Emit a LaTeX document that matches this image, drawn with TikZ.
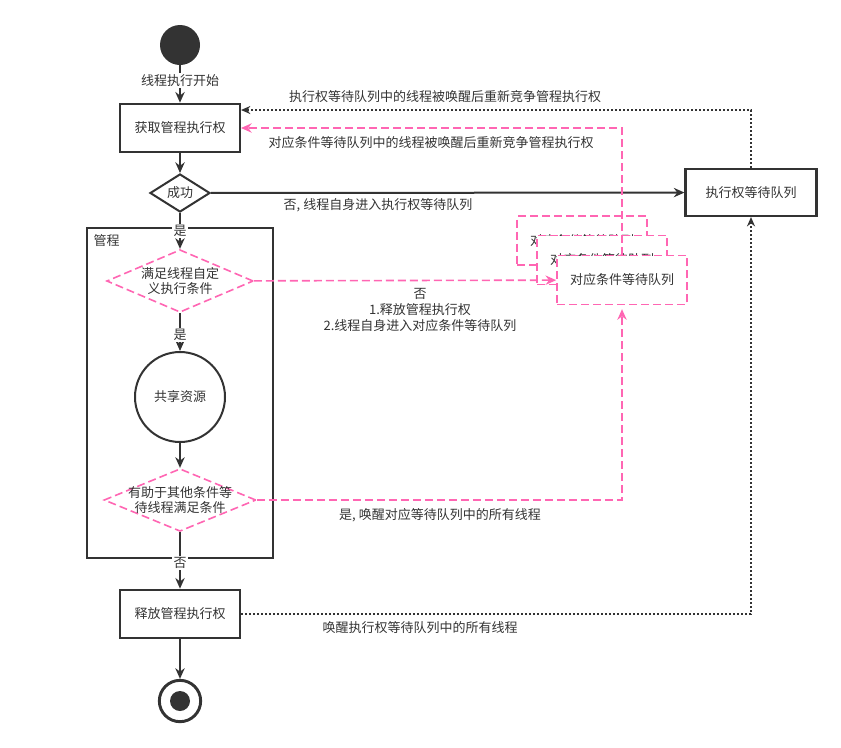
\documentclass[tikz,border=0pt]{standalone}
\usepackage{fontspec}
\setmainfont{Noto Sans CJK SC}
\usetikzlibrary{arrows.meta, positioning, shapes.geometric}

\definecolor{ink}{HTML}{333333}
\definecolor{hot}{HTML}{FF66B3}

\begin{document}
\begin{tikzpicture}[x=0.75pt, y=-0.75pt,
        font=\fontsize{9.75pt}{12pt}\selectfont, text=ink,
        act/.style={draw=ink, line width=1.5pt, fill=white, minimum width=90pt, minimum height=36.5pt, inner sep=0pt},
        queue/.style={draw=hot, line width=1.2pt, dash pattern=on 6pt off 3pt, fill=white, minimum width=97.5pt, minimum height=36.5pt, inner sep=0pt},
        test/.style={diamond, draw=ink, line width=1.5pt, fill=white, inner sep=0pt, minimum width=45pt, minimum height=22.5pt},
        guard/.style={diamond, draw=hot, line width=1.2pt, dash pattern=on 6pt off 3pt, fill=white, inner sep=0pt, minimum width=110pt, minimum height=47pt,
            label={[align=center, inner sep=0pt, font=\fontsize{9.75pt}{11.5pt}\selectfont]center:#1}},
        tag/.style={fill=white, inner sep=1pt},
        flow/.style={draw=ink, line width=1.5pt, -{Stealth[length=8pt, width=7pt]}},
        wake/.style={draw=ink, line width=1.5pt, dash pattern=on 1.5pt off 1.5pt, -{Stealth[length=7pt, width=6pt]}},
        cond/.style={draw=hot, line width=1.2pt, dash pattern=on 6pt off 3pt, -{Stealth[length=8pt, width=7pt]}}]
        \useasboundingbox (0,0) rectangle (841,747);

        % monitor frame
        \node (mon) [draw=ink, line width=1.5pt, minimum width=139.5pt, minimum height=247.5pt] at (180,393) {};
        \node (monlbl) [anchor=west] at (89,241) {管程};

        \node (start) [circle, fill=ink, minimum size=30pt] at (180,45) {};
        \node (acq) [act] at (180,128) {获取管程执行权};
        \node (ok) [test] at (180,193) {成功};
        \node (fits) [guard={满足线程自定\\义执行条件}] at (180,281) {};
        \node (res) [circle, draw=ink, line width=1.5pt, fill=white, minimum size=67.5pt] at (180,397) {共享资源};
        \node (help) [guard={有助于其他条件等\\待线程满足条件}, minimum width=114pt] at (180,500) {};
        \node (rel) [act] at (180,614) {释放管程执行权};
        \node (stop) [circle, draw=ink, line width=2.2pt, fill=white, minimum size=31pt] at (180,701) {};
        \node (stopdot) [circle, fill=ink, minimum size=15pt] at (stop) {};

        \node (wq) [act, line width=1.8pt, minimum width=98pt, minimum height=35pt] at (751,192.5) {执行权等待队列};
        \node (cq1) [queue] at (582,240.5) {对应条件等待队列};
        \node (cq2) [queue] at (602,260) {对应条件等待队列};
        \node (cq3) [queue] at (622,280) {对应条件等待队列};

        % main flow
        \path [flow] (start) -- node [tag, pos=0.4] {线程执行开始} (acq);
        \path [flow] (acq) -- (ok);
        \path [flow] (ok) -- node [tag, pos=0.5] {是} (fits);
        \path [flow] (fits) -- node [tag, pos=0.58] {是} (res);
        \path [flow] (res) -- (help);
        \path [flow] (help) -- node [tag, pos=0.55] {否} (rel);
        \path [flow] (rel) -- (stop);
        \path [flow] (ok) -- (wq);

        % wake-ups
        \path [wake] (wq.north) |- ([yshift=13.5pt]acq.east);
        \path [wake] (rel) -| (wq.south);
        \path [cond] (cq3.north) |- (acq.east);
        \path [cond] (fits) -- (cq3);
        \path [cond] (help) -| ([yshift=-3pt]cq3.south);

        % labels
        \node (l1) at (445,97) {执行权等待队列中的线程被唤醒后重新竞争管程执行权};
        \node (l2) at (431,143) {对应条件等待队列中的线程被唤醒后重新竞争管程执行权};
        \node (l3) at (378,205) {否, 线程自身进入执行权等待队列};
        \node (l4) [align=center] at (420,310) {否\\1.释放管程执行权\\2.线程自身进入对应条件等待队列};
        \node (l5) at (440,515) {是, 唤醒对应等待队列中的所有线程};
        \node (l6) at (420,628) {唤醒执行权等待队列中的所有线程};
\end{tikzpicture}
\end{document}
